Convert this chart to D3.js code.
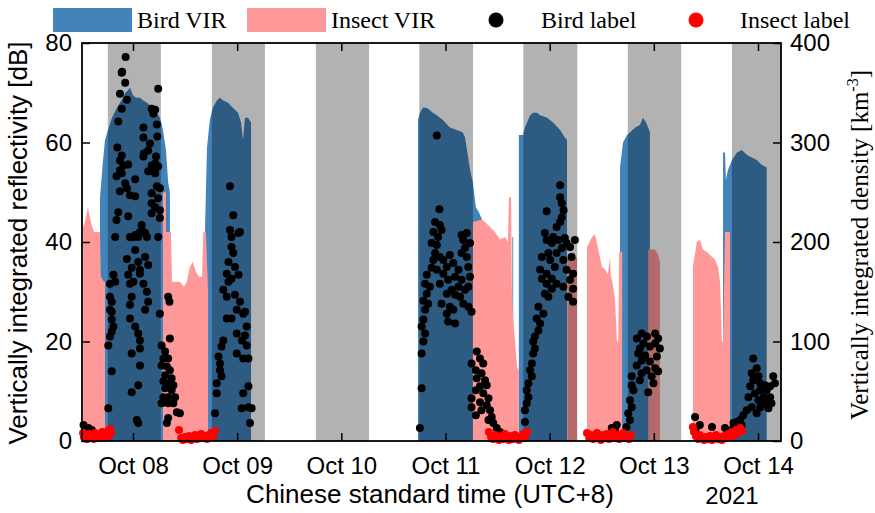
<!DOCTYPE html>
<html lang="en">
<head>
<meta charset="UTF-8">
<title>VIR time series</title>
<script src="https://cdn.jsdelivr.net/npm/d3@7"></script>
<style>
  body { margin: 0; background: #fff; }
  text { fill: #000; }
</style>
</head>
<body>
<div id="chart"></div>
<script>

// hours since 2021-10-07 00:00 (UTC+8)
const birdVirHour = [16.4,16.4,17.1,17.55,18.24,19.16,20.3,21.7,22.2,22.85,23.3,24.0,24.7,25.6,26.3,27.2,27.9,28.4,29.1,29.5,30.2,30.5,30.9,31.6,32.1,32.5,32.5,
  40.6,40.6,41.05,41.7,42.4,43.35,44.05,44.7,45.9,47.0,48.2,48.9,49.35,49.8,50.5,51.2,51.2,
  89.66,89.66,90.1,90.8,91.7,92.4,93.1,94.0,95.4,97.0,98.65,100.0,100.5,100.95,101.65,102.3,103.0,103.7,104.4,104.4,
  111.4,111.4,111.6,111.6,
  112.9,112.9,113.85,114.3,115.5,116.2,117.1,117.8,119.4,120.8,122.4,123.5,124.0,124.0,
  136.2,136.2,136.9,137.8,138.5,139.7,140.8,141.5,142.2,142.7,143.1,143.1,
  159.95,159.95,160.4,160.6,161.1,162.0,163.15,164.3,165.45,166.6,167.7,168.9,170.0,170.0];
const birdVirDb = [0,49,56.5,60.5,62.5,65,67,69,70,70.5,71,69.5,69,69,68.5,68,67.5,67,66.5,66,65,64,62.5,58.5,52,50,0,
  0,43,59,64.5,67,68.5,69,68.5,68,67,66,64,60.5,65,65,64,0,
  0,64.5,66,67,67,66.5,66,65.5,64.5,63,62.5,62,61,58.5,54.5,52,47,46,44.5,0,
  0,41,41,0,
  0,61.5,61.5,63,65.5,66,66,65.5,65,64,62.5,61,60.5,0,
  0,55,60,61.5,62,63,63.5,65,64,63,62,0,
  0,58,58,52.5,54.5,56.5,58,58.5,57.5,57,56.5,55.5,55,0];

const insectVirHour = [12.5,12.5,12.9,13.6,14.3,15.0,15.7,16.4,16.6,17.3,17.55,17.55,
  30.9,30.9,31.6,31.6,32.75,33.0,33.9,34.8,35.75,36.4,37.1,37.8,38.5,39.2,39.9,40.2,40.8,41.3,41.3,
  102.3,102.3,104.4,105.1,106.25,107.4,108.55,109.7,110.4,110.6,111.1,111.3,111.55,112.5,112.9,112.9,
  124.1,124.1,126.3,126.3,
  128.6,128.6,129.75,130.45,131.1,132.05,132.75,133.4,133.9,134.1,134.35,135.05,135.5,135.8,136.0,136.45,136.7,136.7,
  142.7,142.7,144.3,145.0,145.4,145.4,
  153.0,153.0,153.9,154.6,155.3,156.25,157.4,158.1,158.8,159.25,159.7,159.95,160.4,161.3,161.55,161.55];
const insectVirDb = [0,43,44,47,44,42,42,42,33,32,32,0,
  0,50,50,42,42,32,32,32,31,32,35,36,34,33,33,42,42,30,0,
  0,44,44.5,44,43,42,40.5,41,40,49,49,30,25,15,14,0,
  0,37,37,0,
  0,39,41,41.5,39,35,34.5,33.5,37,33,32.5,28.5,20,20,38,38,38,0,
  0,38.5,38.5,37.5,36,0,
  0,35,40,40.5,38.5,38,37,36.5,35,32,20,20,42,42,42,0];

// bird label density [km^-3]
const birdLabelHour = [22.3,21.5,21.4,22.2,29.8,21.0,22.6,21.4,28.3,29.1,28.7,20.6,26.4,29.5,26.4,29.6,27.9,27.5,20.4,26.5,26.4,21.4,21.0,29.3,29.1,29.8,28.3,21.8,22.9,21.0,
  28.3,27.5,29.1,20.2,21.4,24.5,22.2,22.6,21.0,23.3,24.5,29.5,30.2,28.3,29.8,28.3,29.1,30.2,28.3,30.2,20.6,20.2,22.9,26.0,26.4,27.2,25.2,19.9,23.3,24.1,29.8,
  24.5,26.8,25.6,24.5,22.6,25.2,23.7,26.8,27.5,19.5,18.7,19.9,22.9,24.1,23.3,25.6,26.4,25.6,27.2,27.5,26.8,23.7,23.3,18.7,19.1,19.1,18.7,30.2,23.3,24.5,25.2,25.6,25.6,
  19.1,19.5,18.7,19.1,18.3,23.7,25.6,25.2,23.7,24.9,25.2,19.1,18.3,
  32.1,32.4,32.5,30.6,31.4,31.0,32.1,30.6,31.8,32.5,31.4,32.9,31.0,32.1,33.3,31.4,32.9,31.0,32.1,33.7,30.6,32.1,33.3,34.1,34.8,32.1,31.8,12.6,13.7,14.5,
  46.35,47.1,46.35,48.65,48.3,46.7,46.7,47.1,46.0,47.5,45.6,46.7,48.3,46.0,44.8,45.6,47.5,48.65,47.9,49.4,49.8,46.7,45.6,50.2,47.9,49.8,49.1,50.2,47.9,49.4,50.6,
  44.8,44.4,43.7,44.05,44.05,44.4,43.3,50.6,49.4,43.3,50.6,51.35,49.05,42.9,50.96,
  94.0,94.6,93.6,94.7,95.1,93.2,94.3,92.8,94.0,93.6,94.7,93.2,92.8,91.7,94.0,91.3,92.4,91.7,90.9,92.0,91.3,90.9,90.5,91.3,90.9,90.5,90.5,90.1,
  97.0,95.5,96.3,97.8,99.0,95.5,98.2,96.6,99.7,94.7,99.0,97.4,100.5,96.3,98.2,99.35,95.1,97.0,100.1,101.3,102.0,96.3,97.8,96.6,98.2,100.1,101.65,100.5,99.7,100.9,101.25,101.65,101.25,100.9,99.7,
  103.2,102.0,103.95,104.7,103.0,104.3,103.2,105.1,103.95,105.5,103.0,104.7,102.0,105.9,103.95,105.5,102.0,104.3,106.26,103.0,106.65,105.9,107.0,107.8,108.56,
  122.4,122.4,122.8,119.3,123.2,122.8,122.4,121.6,118.9,119.3,120.8,120.5,122.0,123.5,123.9,125.8,124.7,122.8,121.6,119.7,118.2,120.1,123.15,125.05,121.2,117.8,123.9,119.3,125.4,124.7,
  118.2,120.5,119.3,121.6,123.15,125.4,118.9,124.3,125.4,119.7,120.5,117.4,118.55,117.0,117.8,117.4,116.6,116.2,116.6,116.2,115.9,115.5,115.9,115.1,114.7,115.1,114.7,114.3,114.3,
  141.2,144.3,140.1,142.4,145.0,141.6,144.3,140.8,143.1,145.4,140.4,142.0,144.7,141.2,143.1,140.05,144.3,142.35,145.0,141.2,138.9,143.5,140.8,143.9,138.9,142.7,139.3,138.5,138.9,138.1,138.5,137.7,135.45,134.3,135.05,
  153.5,153.7,154.6,157.4,160.4,
  166.9,167.7,166.55,168.1,166.9,168.5,166.2,169.6,171.5,170.8,171.9,168.5,170.0,167.3,165.8,169.3,170.8,168.1,169.6,171.1,166.55,168.5,170.4,165.4,167.7,164.6,163.9,163.1,162.35,164.2,162.7,161.9];
const birdLabelDensity = [386,371,370,360,354,349,343,334,334,333,329,321,315,318,305,306,299,292,295,289,286,287,282,286,279,276,277,277,278,272,
  271,271,269,266,269,263,259,254,251,247,246,256,254,249,244,239,235,232,229,224,230,222,226,217,210,205,205,205,205,205,205,
  207,209,210,192,183,180,174,185,177,167,158,160,167,160,158,168,158,172,150,140,132,145,137,145,140,130,132,128,123,115,108,101,93,
  122,115,105,110,96,88,76,56,49,21,18,70,33,
  145,140,103,96,90,83,83,76,75,71,66,63,60,58,56,53,51,44,44,44,38,38,38,29,28,23,18,16,13,11,
  256,227,212,210,209,205,195,189,180,175,168,163,167,160,152,145,147,140,132,128,130,123,123,115,108,106,101,96,88,83,83,
  101,95,85,78,71,65,58,55,48,48,34,33,33,28,18,
  307,233,220,217,212,210,205,199,197,189,185,182,174,167,172,158,155,148,141,138,132,122,115,108,100,88,53,13,
  187,182,175,179,172,168,165,162,162,158,155,152,152,148,147,145,138,135,138,135,130,128,132,120,118,202,199,194,189,185,175,165,155,209,207,
  90,78,83,78,71,68,63,61,55,56,51,48,43,43,39,36,34,31,31,26,24,21,18,13,9,
  257,245,239,231,232,225,220,215,209,202,205,199,202,204,199,202,195,194,189,189,185,182,182,185,175,172,172,168,168,162,
  163,163,158,158,155,153,148,145,140,145,153,135,128,123,118,111,105,100,93,88,78,71,65,58,51,44,38,31,19,
  108,108,103,105,103,98,98,93,95,93,88,86,85,81,80,76,73,71,70,68,65,65,61,58,56,49,51,41,34,28,21,14,16,13,11,
  24,13,16,14,13,
  83,73,68,65,61,58,55,56,65,55,58,51,51,48,44,44,44,41,38,38,34,34,33,31,28,26,21,19,18,16,13,11];

const insectLabelHour = [12.5,12.7,13.2,13.4,13.9,14.1,14.55,15.0,15.25,15.7,16.2,16.4,16.9,17.1,17.55,17.8,18.24,18.5,18.7,18.9,
  34.6,35.1,35.5,36.0,36.4,36.9,37.4,37.8,38.3,38.75,39.2,39.7,40.1,40.6,41.05,41.5,42.0,42.4,42.9,
  106.0,106.5,106.95,107.4,107.9,108.3,108.8,109.3,109.7,110.2,110.6,111.1,111.55,112.0,112.5,112.9,113.4,113.85,114.3,114.8,
  128.6,129.1,129.5,130.0,130.45,130.9,131.4,131.8,132.3,132.75,133.2,133.7,134.1,134.6,135.05,135.5,136.0,136.4,136.9,137.35,137.8,138.3,138.7,
  153.0,153.25,153.7,154.2,154.6,155.1,155.6,156.0,156.5,156.95,157.4,157.9,158.3,158.8,159.25,159.7,160.2,160.6,161.1,161.56,162.0,162.5,162.95,163.4,163.9,164.3];
const insectLabelDensity = [8,4,6,2,7,3,5,2,8,4,6,3,9,5,7,3,10,6,12,8,
  11,3,1,4,2,5,1,3,6,2,4,7,3,5,2,6,8,4,10,
  9,4,2,6,3,1,5,2,7,3,1,5,2,6,3,1,4,7,3,9,
  8,3,6,2,5,8,3,1,6,3,7,2,5,9,3,6,2,5,8,3,5,2,6,
  14,9,5,2,6,3,1,4,2,5,1,3,6,2,4,1,5,3,7,4,9,6,11,8,13,10];

const nightStart = ["2021-10-07 18:12","2021-10-08 18:10","2021-10-09 18:08","2021-10-10 17:58","2021-10-11 17:56","2021-10-12 18:00","2021-10-13 18:00"];
const nightEnd = ["2021-10-08 06:25","2021-10-09 06:24","2021-10-10 06:23","2021-10-11 06:20","2021-10-12 06:22","2021-10-13 06:18","2021-10-14 06:20"];

const dbTicks = [0, 20, 40, 60, 80];
const densityTicks = [0, 100, 200, 300, 400];

// ---------------------------------------------------------------
const W = 875, H = 513;
const plotL = 82, plotR = 781, plotT = 43, plotB = 441;

const base = new Date(2021, 9, 7, 0, 0);
const toDate = h => new Date(base.getTime() + h * 3600e3);
const parse = d3.timeParse("%Y-%m-%d %H:%M");

const t0 = new Date(2021, 9, 7, 12, 15), t1 = new Date(2021, 9, 14, 5, 18);
const x = d3.scaleTime().domain([t0, t1]).range([plotL, plotR]);
const yL = d3.scaleLinear().domain([0, 80]).range([plotB, plotT]);
const yR = d3.scaleLinear().domain([0, 400]).range([plotB, plotT]);

const svg = d3.select("#chart").append("svg")
    .attr("width", W).attr("height", H)
    .style("font-family", "'Liberation Sans', Arial, sans-serif");

const blue = "#4283ba", pink = "#ff9999";

const birdVir = birdVirHour.map((h, i) => ({t: toDate(h), v: birdVirDb[i]}));
const insectVir = insectVirHour.map((h, i) => ({t: toDate(h), v: insectVirDb[i]}));

const area = d3.area()
    .x(d => x(d.t))
    .y0(yL(0))
    .y1(d => yL(d.v));

svg.append("path").datum(birdVir).attr("d", area).attr("fill", blue);
svg.append("path").datum(insectVir).attr("fill", pink).attr("d", area);

// night shading on top of the areas
const nights = nightStart.map((s, i) => ({s: parse(s), e: parse(nightEnd[i])}));
svg.selectAll("rect.night")
    .data(nights)
    .enter()
    .append("rect")
    .attr("class", "night")
    .attr("x", d => x(d.s))
    .attr("width", d => x(d.e > t1 ? t1 : d.e) - x(d.s))
    .attr("y", plotT)
    .attr("height", plotB - plotT)
    .attr("fill", "#000")
    .attr("fill-opacity", 0.3);

// dots
svg.append("g").selectAll("circle")
    .data(birdLabelHour.map((h, i) => [toDate(h), birdLabelDensity[i]]))
    .enter().append("circle")
    .attr("cx", d => x(d[0]))
    .attr("cy", d => yR(d[1]))
    .attr("r", 4)
    .attr("fill", "#000");

svg.append("g").selectAll("circle")
    .data(insectLabelHour.map((h, i) => [toDate(h), insectLabelDensity[i]]))
    .enter().append("circle")
    .attr("cx", d => x(d[0]))
    .attr("cy", d => yR(d[1]))
    .attr("r", 4)
    .attr("fill", "#ff0000");

// axes
const dayTicks = d3.timeDay.range(new Date(2021, 9, 8), new Date(2021, 9, 14, 1));
const fmt = d3.timeFormat("Oct %d");

svg.append("g").attr("transform", `translate(0,${plotB})`)
    .call(d3.axisBottom(x).tickValues(dayTicks).tickFormat(fmt).tickSizeInner(-8).tickSizeOuter(0).tickPadding(16));
svg.append("g").attr("transform", `translate(0,${plotT})`)
    .call(d3.axisTop(x).tickValues(dayTicks).tickFormat("").tickSizeInner(-8).tickSizeOuter(0));
svg.append("g").attr("transform", `translate(${plotL},0)`)
    .call(d3.axisLeft(yL).tickValues(dbTicks).tickSizeInner(-8).tickSizeOuter(0).tickPadding(10));
svg.append("g").attr("transform", `translate(${plotR},0)`)
    .call(d3.axisRight(yR).tickValues(densityTicks).tickSizeInner(-8).tickSizeOuter(0).tickPadding(9));

svg.selectAll(".domain").remove();
svg.selectAll(".tick line").attr("stroke", "#000").attr("stroke-width", 1.5);
svg.selectAll(".tick text")
    .attr("font-family", "'Liberation Sans', Arial, sans-serif")
    .attr("font-size", 24)
    .attr("fill", "#000");

svg.append("rect")
    .attr("x", plotL).attr("y", plotT)
    .attr("width", plotR - plotL).attr("height", plotB - plotT)
    .attr("fill", "none").attr("stroke", "#000").attr("stroke-width", 1.8);

// axis titles
svg.append("text")
    .attr("transform", `translate(27,243) rotate(-90)`)
    .attr("text-anchor", "middle")
    .attr("font-size", 26)
    .text("Vertically integrated reflectivity [dB]");

const rt = svg.append("text")
    .attr("transform", `translate(868,245) rotate(-90)`)
    .attr("text-anchor", "middle")
    .attr("font-family", "'Liberation Serif', 'Times New Roman', serif")
    .attr("font-size", 25);
rt.append("tspan").text("Vertically integrated density [km");
rt.append("tspan").attr("font-size", 16).attr("dy", -10).text("-3");
rt.append("tspan").attr("dy", 10).text("]");

svg.append("text")
    .attr("x", 430).attr("y", 503)
    .attr("text-anchor", "middle")
    .attr("font-size", 26)
    .text("Chinese standard time (UTC+8)");

svg.append("text")
    .attr("x", 732).attr("y", 504)
    .attr("text-anchor", "middle")
    .attr("font-size", 24)
    .text("2021");

// legend
const lg = svg.append("g")
    .attr("font-family", "'Liberation Serif', 'Times New Roman', serif")
    .attr("font-size", 24);
lg.append("rect").attr("x", 53).attr("y", 8).attr("width", 79).attr("height", 24).attr("fill", blue);
lg.append("text").attr("x", 137).attr("y", 28).text("Bird VIR");
lg.append("rect").attr("x", 247).attr("y", 8).attr("width", 79).attr("height", 24).attr("fill", pink);
lg.append("text").attr("x", 331).attr("y", 28).text("Insect VIR");
lg.append("circle").attr("cx", 496).attr("cy", 20).attr("r", 7.5).attr("fill", "#000");
lg.append("text").attr("x", 541).attr("y", 28).text("Bird label");
lg.append("circle").attr("cx", 696).attr("cy", 20).attr("r", 7.5).attr("fill", "#ff0000");
lg.append("text").attr("x", 740).attr("y", 28).text("Insect label");

</script>
</body>
</html>
